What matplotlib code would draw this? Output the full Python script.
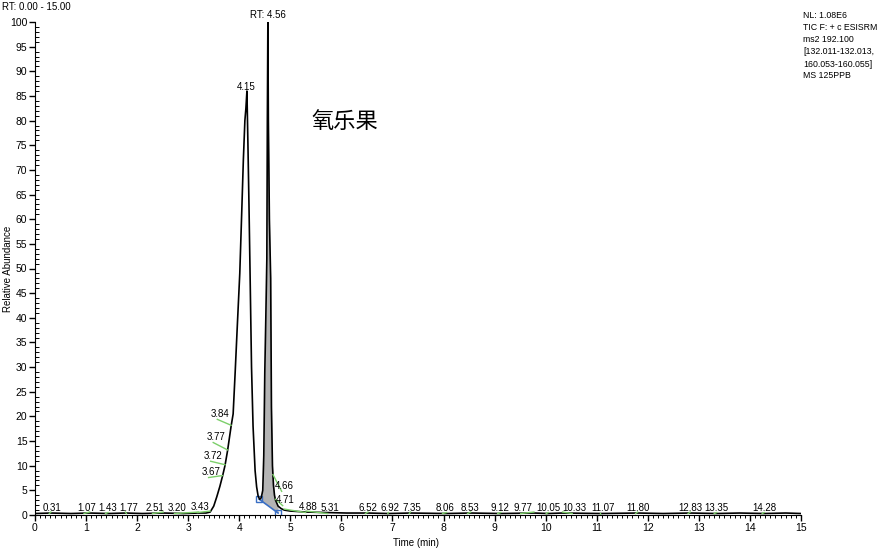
import numpy as np
import matplotlib
matplotlib.use("Agg")
import matplotlib.pyplot as plt
from matplotlib.ticker import MultipleLocator

plt.rcParams['font.family'] = ['Liberation Sans', 'DejaVu Sans']

# trace (time in min, relative abundance %)
time_min = [0.00, 0.31, 0.70, 1.07, 1.43, 1.77, 2.10, 2.51, 2.90, 3.20, 3.35,
            3.43, 3.50, 3.56, 3.62, 3.67, 3.72, 3.77, 3.84, 3.88, 3.92, 3.96,
            4.01, 4.05, 4.08, 4.11, 4.13, 4.15, 4.17, 4.19, 4.21, 4.24, 4.27,
            4.31, 4.34, 4.37, 4.40, 4.43, 4.46, 4.48, 4.50, 4.52, 4.54, 4.55,
            4.56, 4.57, 4.59, 4.615, 4.63, 4.65, 4.67, 4.69, 4.71, 4.76, 4.82,
            4.88, 5.00, 5.31, 5.70, 6.10, 6.52, 6.92, 7.35, 8.06, 8.53, 9.12,
            9.77, 10.05, 10.33, 11.07, 11.80, 12.30, 12.83, 13.35, 13.80,
            14.28, 14.70, 15.00]
abundance = [0.3, 0.4, 0.3, 0.4, 0.3, 0.4, 0.3, 0.4, 0.3, 0.4, 0.4,
             0.6, 1.8, 3.7, 5.8, 7.8, 10.0, 13.0, 18.0, 20.5, 29.0, 38.0,
             49.0, 62.0, 72.0, 80.0, 82.5, 86.0, 75.0, 63.0, 50.0, 30.0, 18.0,
             9.0, 5.7, 3.8, 3.2, 3.5, 5.0, 12.0, 29.0, 40.0, 52.0, 80.0,
             100.0, 80.0, 60.0, 48.0, 22.0, 10.0, 6.0, 4.0, 3.0, 1.8, 1.3,
             1.0, 0.8, 0.6, 0.5, 0.4, 0.4, 0.3, 0.4, 0.3, 0.4, 0.3,
             0.4, 0.3, 0.4, 0.3, 0.4, 0.3, 0.4, 0.3, 0.4,
             0.3, 0.4, 0.3]

# integration baseline of the 4.56 peak
base_t = [4.39, 4.76]
base_a = [3.2, 0.4]

# peak labels: text, label position (t, a), peak time
peak_text = ["0.31", "1.07", "1.43", "1.77", "2.51", "3.20", "3.43", "3.67",
             "3.72", "3.77", "3.84", "4.15", "RT: 4.56", "4.66", "4.71", "4.88",
             "5.31", "6.52", "6.92", "7.35", "8.06", "8.53", "9.12", "9.77",
             "10.05", "10.33", "11.07", "11.80", "12.83", "13.35", "14.28"]
peak_t = [0.31, 1.07, 1.43, 1.77, 2.51, 3.20, 3.43, 3.67, 3.72, 3.77, 3.84,
          4.15, 4.56, 4.66, 4.71, 4.88, 5.31, 6.52, 6.92, 7.35, 8.06, 8.53,
          9.12, 9.77, 10.05, 10.33, 11.07, 11.80, 12.83, 13.35, 14.28]
label_x = [0.33, 1.01, 1.43, 1.84, 2.35, 2.78, 3.23, 3.45, 3.49, 3.54, 3.62,
           4.13, 4.56, 4.88, 4.90, 5.35, 5.78, 6.52, 6.96, 7.38, 8.03, 8.52,
           9.11, 9.56, 10.06, 10.57, 11.12, 11.81, 12.84, 13.35, 14.29]
label_y = [1.4, 1.4, 1.4, 1.4, 1.4, 1.4, 1.6, 8.7, 12.0, 15.8, 20.5,
           86.8, 101.4, 5.9, 3.0, 1.6, 1.4, 1.4, 1.4, 1.4, 1.4, 1.4,
           1.4, 1.4, 1.4, 1.4, 1.4, 1.4, 1.4, 1.4, 1.4]

info_lines = ["NL: 1.08E6", "TIC F: + c ESISRM", "ms2 192.100",
              "[132.011-132.013,", "160.053-160.055]", "MS 125PPB"]

fig = plt.figure(figsize=(8.79, 5.49), dpi=100)
ax = fig.add_axes([35 / 879, 1 - 515 / 549, 766 / 879, 493 / 549])

t = np.array(time_min)
a = np.array(abundance)

# shaded integrated area
mask = (t >= base_t[0]) & (t <= base_t[1])
ts = np.concatenate([[base_t[0]], t[mask], [base_t[1]]])
cs = np.interp(ts, t, a)
bs = np.interp(ts, base_t, base_a)
ax.fill_between(ts, bs, cs, color="#b4b4b4", lw=0)
ax.plot(base_t, base_a, color="#3a6fc4", lw=1.2)
ax.plot(base_t, base_a, ls="none", marker="s", ms=4, mfc="none",
        mec="#3a6fc4", mew=1)

ax.plot(t, a, color="black", lw=1.2)

# label markers (green ticks) and texts
for txt, pt, lx, ly in zip(peak_text, peak_t, label_x, label_y):
    ca = float(np.interp(pt, t, a))
    if ly < 50:
        ax.plot([lx - 0.05, pt], [ly - 1.1, ca + 0.2],
                color="#7ccf6a", lw=1.0)
    ax.text(lx, ly, txt, ha="center", va="center", fontsize=7,
            clip_on=False)

ax.set_xlim(0, 15)
ax.set_ylim(0, 100)
ax.spines["top"].set_visible(False)
ax.spines["right"].set_visible(False)
ax.xaxis.set_major_locator(MultipleLocator(1))
ax.xaxis.set_minor_locator(MultipleLocator(0.1))
ax.yaxis.set_major_locator(MultipleLocator(5))
ax.yaxis.set_minor_locator(MultipleLocator(1))
ax.tick_params(axis="both", which="major", labelsize=7.5, length=4,
               width=1, pad=1.5)
ax.tick_params(axis="x", which="minor", length=2.5, width=0.7)
ax.tick_params(axis="y", which="minor", direction="in", length=3, width=0.7)
ax.set_xlabel("Time (min)", fontsize=7)
ax.set_ylabel("Relative Abundance", fontsize=7)
ax.xaxis.set_label_coords(0.497, -0.047)
ax.yaxis.set_label_coords(-0.0285, 0.5)

fig.text(2 / 879, 1 - 7 / 549, "RT: 0.00 - 15.00", fontsize=7,
         ha="left", va="center")
for i, line in enumerate(info_lines):
    fig.text(803 / 879, 1 - (16 + 12 * i) / 549, line, fontsize=6.3,
             ha="left", va="center")

fig.text(345 / 879, 1 - 122 / 549, "氧乐果", fontsize=16, ha="center",
         va="center", family=["Noto Sans CJK SC", "DejaVu Sans"])

fig.savefig("out.png", dpi=100)
plt.close(fig)
